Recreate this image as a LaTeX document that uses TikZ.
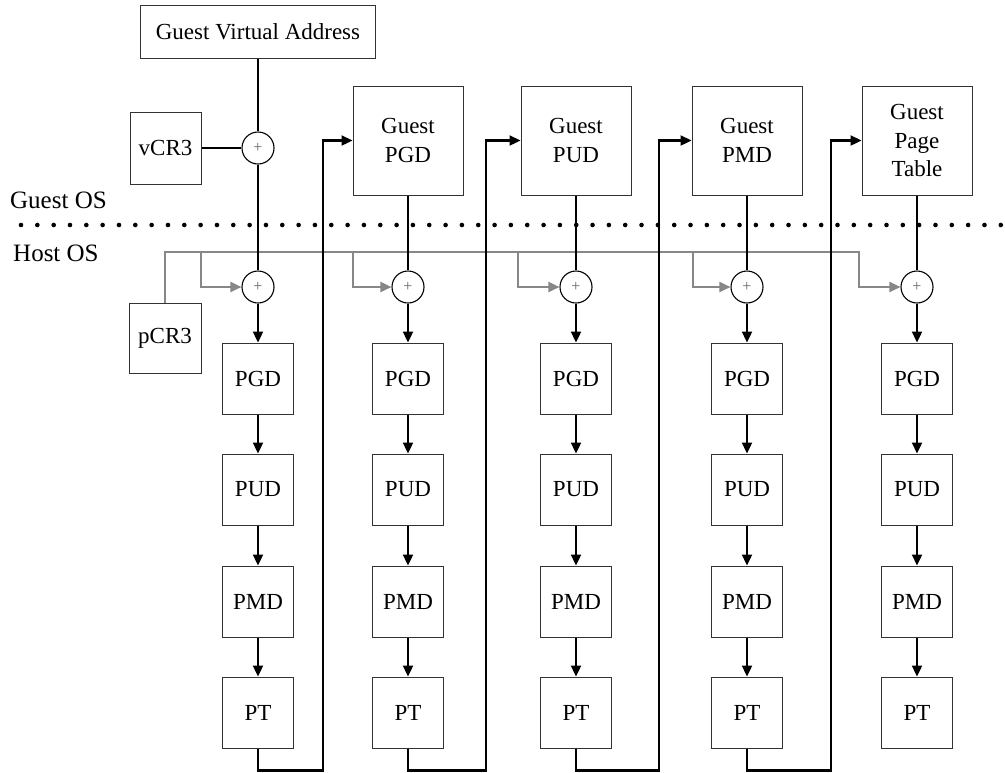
\documentclass[tikz,border=0pt]{standalone}
\usepackage{fontspec}
\setmainfont{Liberation Serif}
\usetikzlibrary{arrows.meta}
\begin{document}
\begin{tikzpicture}[x=1pt,y=-1pt,
  box/.style={draw=black!80, line width=1pt, fill=white, inner sep=0pt, align=center, font=\fontsize{23}{28.5}\selectfont},
  hbox/.style={box, minimum width=71pt, minimum height=71pt},
  gbox/.style={box, minimum width=110pt, minimum height=109pt},
  adder/.style={draw=black, line width=1.1pt, circle, minimum size=32pt, inner sep=0pt, fill=white, font=\fontsize{16}{16}\selectfont, text=black!60},
  conn/.style={line width=2.3pt, black},
  arr/.style={conn, -{Triangle[length=11pt,width=10pt]}},
  gconn/.style={line width=2.2pt, black!47, -{Triangle[length=11pt,width=10pt]}},
  lbl/.style={font=\fontsize{25}{25}\selectfont, inner sep=0pt, anchor=base west}
]
\useasboundingbox (0,0) rectangle (1005,772);

% layer labels and separator
\node[lbl] (gos) at (10,208) {Guest OS};
\node[lbl] (hos) at (13,261) {Host OS};
\foreach \i in {0,...,60} \fill (21+16.33*\i,225) circle[radius=2.3];

% guest side
\node[box, minimum width=235pt, minimum height=53pt] (gva) at (258,31.5) {Guest Virtual Address};
\node[box, minimum width=71pt, minimum height=72pt] (vcr3) at (165.5,148) {vCR3};
\node[adder] (c0) at (258,148) {+};
\node[gbox] (g1) at (408,140.5) {Guest\\PGD};
\node[gbox] (g2) at (576,140.5) {Guest\\PUD};
\node[gbox] (g3) at (747,140.5) {Guest\\PMD};
\node[gbox] (g4) at (917,140.5) {Guest\\Page\\Table};

% host side
\node[box, minimum width=72pt, minimum height=70pt] (pcr3) at (165,338) {pCR3};
\foreach \i/\x in {1/258,2/408,3/576,4/747,5/917}{
  \node[adder] (h\i) at (\x,287) {+};
  \node[hbox] (pgd\i) at (\x,378.5) {PGD};
  \node[hbox] (pud\i) at (\x,489.5) {PUD};
  \node[hbox] (pmd\i) at (\x,601.5) {PMD};
  \node[hbox] (pt\i) at (\x,712.5) {PT};
}

% gray pCR3 distribution
\coordinate (gend) at (859,252);
\coordinate (b1) at (201,252);
\coordinate (b2) at (353,252);
\coordinate (b3) at (518,252);
\coordinate (b4) at (693,252);
\draw[gconn] (pcr3.north) |- (gend) |- (h5.west);
\foreach \i in {1,...,4} \draw[gconn] (b\i) |- (h\i.west);

% black connectors
\draw[conn] (gva) -- (c0);
\draw[conn] (vcr3) -- (c0);
\draw[conn] (c0) -- (h1);
\draw[conn] (g1) -- (h2);
\draw[conn] (g2) -- (h3);
\draw[conn] (g3) -- (h4);
\draw[conn] (g4) -- (h5);
\foreach \i in {1,...,5}{
  \draw[arr] (h\i) -- (pgd\i);
  \draw[arr] (pgd\i) -- (pud\i);
  \draw[arr] (pud\i) -- (pmd\i);
  \draw[arr] (pmd\i) -- (pt\i);
}
\coordinate (r1) at (323,770.5);
\coordinate (r2) at (486,770.5);
\coordinate (r3) at (659,770.5);
\coordinate (r4) at (831,770.5);
\foreach \i/\j in {1/1,2/2,3/3,4/4}
  \draw[arr, line join=miter] (pt\i.south) |- (r\i) |- (g\j.west);
\end{tikzpicture}
\end{document}
